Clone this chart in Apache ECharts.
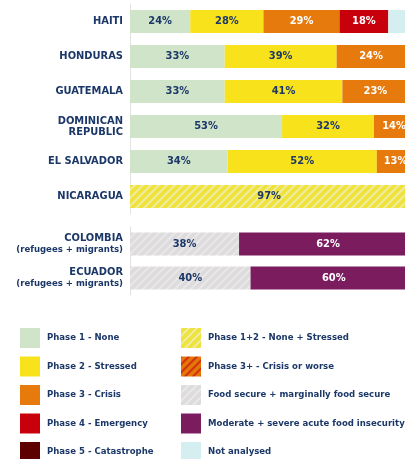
<!DOCTYPE html>
<html>
<head>
<meta charset="utf-8">
<script src="https://cdn.jsdelivr.net/npm/echarts@6/dist/echarts.min.js"></script>
<style>
  html, body { margin: 0; padding: 0; background: #fff; }
  #chart { width: 405px; height: 459px; }
</style>
</head>
<body>
<div id="chart"></div>
<script>
// rows, top block (IPC phases) and bottom block (refugees + migrants)
const topRows = ['HAITI', 'HONDURAS', 'GUATEMALA', 'DOMINICAN\nREPUBLIC', 'EL SALVADOR', 'NICARAGUA'];
const bottomRows = ['COLOMBIA\n(refugees + migrants)', 'ECUADOR\n(refugees + migrants)'];

// bar lengths (% of population)
const phase1 = [21, 33, 33, 53, 34, null];
const phase2 = [25.5, 39, 41, 32, 52, null];
const phase3 = [26.5, 24, 23, 14, 13, null];
const phase4 = [17, null, null, null, null, null];
const notAnalysed = [10, null, null, null, null, null];
const phase12 = [null, null, null, null, null, 97];
const foodSecure = [38, 42];
const moderateSevere = [62, 60];

// printed percentages
const phase1Pct = [24, 33, 33, 53, 34, null];
const phase2Pct = [28, 39, 41, 32, 52, null];
const phase3Pct = [29, 24, 23, 14, 13, null];
const phase4Pct = [18, null, null, null, null, null];
const phase12Pct = [null, null, null, null, null, 97];
const foodSecurePct = [38, 40];
const moderateSeverePct = [62, 60];

// legend columns
const legendLeft = ['Phase 1 - None', 'Phase 2 - Stressed', 'Phase 3 - Crisis', 'Phase 4 - Emergency', 'Phase 5 - Catastrophe'];
const legendRight = ['Phase 1+2 - None + Stressed', 'Phase 3+ - Crisis or worse', 'Food secure + marginally food secure',
  'Moderate + severe acute food insecurity', 'Not analysed'];

const navy = '#1c3868';
const font = '"Liberation Sans Narrow", "DejaVu Sans Condensed", sans-serif';

function hatch(bg, stripe) {
  const c = document.createElement('canvas');
  c.width = 8; c.height = 8;
  const ctx = c.getContext('2d');
  ctx.fillStyle = bg;
  ctx.fillRect(0, 0, 8, 8);
  ctx.strokeStyle = stripe;
  ctx.lineWidth = 2;
  ctx.beginPath();
  ctx.moveTo(-1, 9); ctx.lineTo(9, -1);
  ctx.moveTo(-3, 3); ctx.lineTo(3, -3);
  ctx.moveTo(5, 11); ctx.lineTo(11, 5);
  ctx.stroke();
  return { image: c, repeat: 'repeat' };
}

function lbl(pcts, color) {
  return {
    show: true,
    position: 'inside',
    color: color,
    fontFamily: font,
    fontWeight: 'bold',
    fontSize: 11,
    formatter: (p) => pcts[p.dataIndex] == null ? '' : pcts[p.dataIndex] + '%'
  };
}

function bar(name, data, color, pcts, labelColor, grid) {
  return {
    name: name,
    type: 'bar',
    stack: 'g' + grid,
    xAxisIndex: grid,
    yAxisIndex: grid,
    barWidth: 23,
    data: data,
    itemStyle: { color: color },
    label: pcts ? lbl(pcts, labelColor) : { show: false },
    emphasis: { disabled: true }
  };
}

const chart = echarts.init(document.getElementById('chart'));

const yCommon = {
  type: 'category',
  inverse: true,
  axisTick: { show: false },
  axisLine: { show: true, lineStyle: { color: '#e2e2e2', width: 1 } },
  axisLabel: {
    color: navy,
    fontFamily: font,
    fontWeight: 'bold',
    fontSize: 11,
    lineHeight: 11,
    margin: 7,
    align: 'right',
    formatter: (v) => {
      const parts = v.split('\n');
      if (parts.length > 1 && parts[1].charAt(0) === '(') return parts[0] + '\n{s|' + parts[1] + '}';
      return v;
    },
    rich: { s: { fontFamily: font, fontWeight: 'bold', fontSize: 9.5, lineHeight: 11, color: navy } }
  }
};
const xCommon = { type: 'value', min: 0, max: 100, show: false };

const legendText = { color: navy, fontFamily: font, fontWeight: 'bold', fontSize: 9.5, padding: [0, 0, 0, 2] };

const legends = [];
legendLeft.forEach((n, i) => legends.push({ left: 20, top: 328 + i * 28.5, data: [n] }));
legendRight.forEach((n, i) => legends.push({ left: 181, top: 328 + i * 28.5, data: [n] }));
legends.forEach((l) => Object.assign(l, {
  itemWidth: 20, itemHeight: 20, icon: 'rect', selectedMode: false, padding: 0, textStyle: legendText
}));

chart.setOption({
  animation: false,
  grid: [
    { left: 130, width: 287, top: 4, height: 210, outerBoundsMode: 'none' },
    { left: 130, width: 287, top: 227, height: 68, outerBoundsMode: 'none' }
  ],
  xAxis: [Object.assign({ gridIndex: 0 }, xCommon), Object.assign({ gridIndex: 1 }, xCommon)],
  yAxis: [
    Object.assign({ gridIndex: 0, data: topRows }, yCommon),
    Object.assign({ gridIndex: 1, data: bottomRows }, yCommon)
  ],
  legend: legends,
  series: [
    bar('Phase 1 - None', phase1, '#cfe4c8', phase1Pct, navy, 0),
    bar('Phase 2 - Stressed', phase2, '#f7e21c', phase2Pct, navy, 0),
    bar('Phase 3 - Crisis', phase3, '#e67a0c', phase3Pct, '#fff', 0),
    bar('Phase 4 - Emergency', phase4, '#c8000c', phase4Pct, '#fff', 0),
    bar('Not analysed', notAnalysed, '#d5eef0', null, navy, 0),
    bar('Phase 1+2 - None + Stressed', phase12, hatch('#efe23a', '#efeca0'), phase12Pct, navy, 0),
    bar('Phase 5 - Catastrophe', [], '#5c0000', null, navy, 0),
    bar('Phase 3+ - Crisis or worse', [], hatch('#e5780c', '#d0300c'), null, navy, 0),
    bar('Food secure + marginally food secure', foodSecure, hatch('#dcdcdc', '#ebe6ea'), foodSecurePct, navy, 1),
    bar('Moderate + severe acute food insecurity', moderateSevere, '#7a1c5e', moderateSeverePct, '#fff', 1)
  ]
});
</script>
</body>
</html>
